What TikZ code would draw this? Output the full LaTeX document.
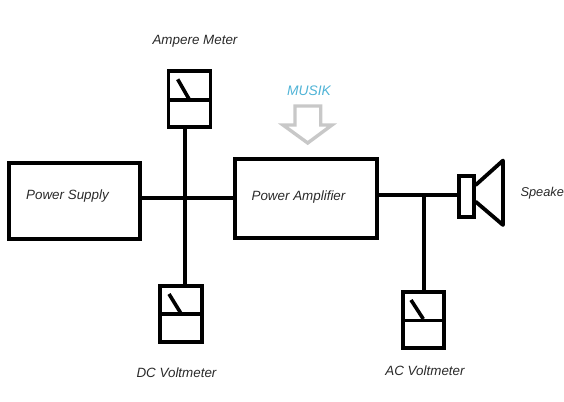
\documentclass[tikz,border=0pt]{standalone}
\usepackage{fontspec}
\setmainfont{Liberation Sans}
\definecolor{arrowgray}{HTML}{C8C8C8}
\definecolor{musikblue}{HTML}{4FB3D6}
\definecolor{labelgray}{HTML}{2A2A2A}
\tikzset{
  wire/.style={line width=3.8pt,black},
  blockbox/.style={draw=black,line width=3.8pt,rectangle,inner sep=0pt,outer sep=0pt},
  needle/.style={line width=3.6pt,black},
  lbl/.style={font=\fontsize{13.4}{16}\selectfont\itshape,text=labelgray,inner sep=0pt,outer sep=0pt},
}
\newcommand{\meterbox}[5]{% name, x1, y1, x2, y2
  \node[blockbox,minimum width={#4pt-#2pt},minimum height={#5pt-#3pt}] (#1) at ({(#2+#4)/2},{(#3+#5)/2}) {};
}
\begin{document}
\begin{tikzpicture}[x=1pt,y=-1pt]
\useasboundingbox (0,0) rectangle (564,401);
% blocks
\meterbox{supply}{9}{163}{140}{239}
\meterbox{amp}{235}{159}{377}{238}
\meterbox{ammeter}{168.5}{71}{210.5}{127}
\meterbox{dcmeter}{160}{286}{202}{342}
\meterbox{acmeter}{403}{292}{444}{348}
\meterbox{driver}{459}{176}{474}{217}
% junctions
\coordinate (busA) at (185.3,198);
\coordinate (busB) at (423.7,195);
\coordinate (ampout) at (amp.east |- busB);
\coordinate (drvin) at (driver.west |- busB);
% connectors
\draw[wire] (supply.east |- busA) -- (amp.west |- busA);
\draw[wire] (ammeter.south -| busA) -- (dcmeter.north -| busA);
\draw[wire] (ampout) -- (drvin);
\draw[wire] (busB) -- (acmeter.north -| busB);
% meter faces
\draw[wire,line width=3.2pt] (ammeter.west |- 0,100) -- (ammeter.east |- 0,100);
\draw[needle] (177.7,79.3) -- (189,99);
\draw[wire,line width=3.2pt] (dcmeter.west |- 0,314) -- (dcmeter.east |- 0,314);
\draw[needle] (169,294) -- (180.7,313);
\draw[wire,line width=3.2pt] (acmeter.west |- 0,320.5) -- (acmeter.east |- 0,320.5);
\draw[needle] (411,300) -- (423.3,319);
% speaker horn
\draw[wire,line join=round,line cap=round] (475.7,185) -- (503,160.5) -- (503,225) -- (475.7,201.7);
% input arrow
\draw[draw=arrowgray,line width=3.4pt,line join=miter,fill=white]
  (295,106) -- (320.7,106) -- (320.7,125) -- (332,125) -- (307.7,143) -- (283,125) -- (295,125) -- cycle;
% labels
\node[lbl] (lamp) at (195,41) {Ampere Meter};
\node[lbl,text=musikblue,font=\fontsize{13.8}{16}\selectfont\itshape] (lmusik) at (309,91) {MUSIK};
\node[lbl] (lsupply) at (67.5,196) {Power Supply};
\node[lbl] (lpower) at (298.5,197) {Power Amplifier};
\node[lbl] (ldc) at (176.5,373) {DC Voltmeter};
\node[lbl] (lac) at (425,371) {AC Voltmeter};
\node[lbl,anchor=west,font=\fontsize{12.8}{16}\selectfont\itshape] (lspk) at (520.5,193) {Speake};
\end{tikzpicture}
\end{document}
